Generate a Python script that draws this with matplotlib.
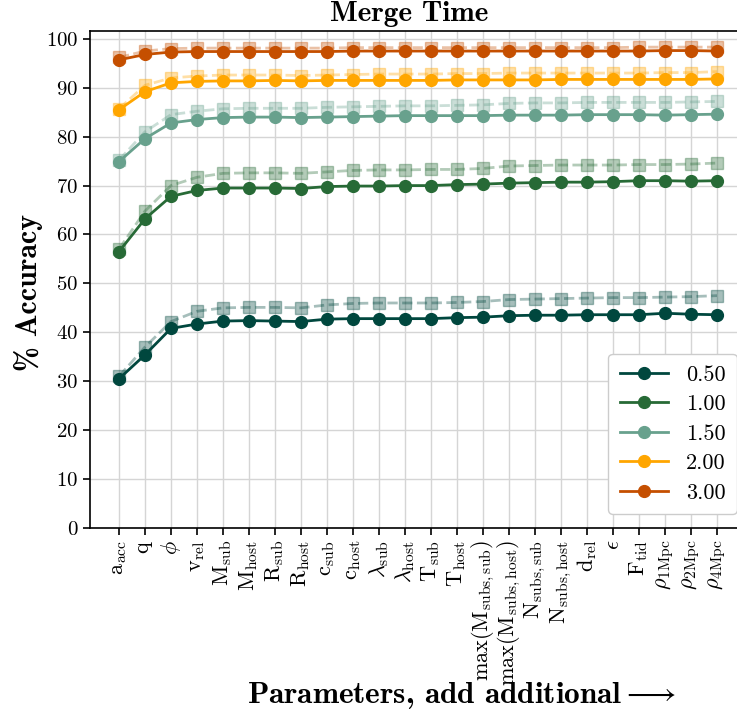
import numpy as np
import matplotlib
matplotlib.use("Agg")
from matplotlib import pyplot as plt

plt.rcParams['font.family'] = ['cmr10', 'DejaVu Serif']
plt.rcParams['mathtext.fontset'] = 'cm'
plt.rcParams['axes.formatter.use_mathtext'] = True

# parameters, added one after another
params = [r'$\mathrm{a}_{\mathrm{acc}}$', r'$\mathrm{q}$', r'$\phi$', r'$\mathrm{v}_{\mathrm{rel}}$',
          r'$\mathrm{M}_{\mathrm{sub}}$', r'$\mathrm{M}_{\mathrm{host}}$', r'$\mathrm{R}_{\mathrm{sub}}$',
          r'$\mathrm{R}_{\mathrm{host}}$', r'$\mathrm{c}_{\mathrm{sub}}$', r'$\mathrm{c}_{\mathrm{host}}$',
          r'$\lambda_{\mathrm{sub}}$', r'$\lambda_{\mathrm{host}}$', r'$\mathrm{T}_{\mathrm{sub}}$',
          r'$\mathrm{T}_{\mathrm{host}}$', r'$\mathrm{max}(\mathrm{M}_{\mathrm{subs,sub}})$',
          r'$\mathrm{max}(\mathrm{M}_{\mathrm{subs,host}})$', r'$\mathrm{N}_{\mathrm{subs,sub}}$',
          r'$\mathrm{N}_{\mathrm{subs,host}}$', r'$\mathrm{d}_{\mathrm{rel}}$', r'$\epsilon$',
          r'$\mathrm{F}_{\mathrm{tid}}$', r'$\rho_{\mathrm{1Mpc}}$', r'$\rho_{\mathrm{2Mpc}}$',
          r'$\rho_{\mathrm{4Mpc}}$']

labels = ['0.50', '1.00', '1.50', '2.00', '3.00']
colors = ['#00473e', '#276a36', '#68a18d', '#ffa600', '#c54f00']

# accuracy (solid) and the comparison run (dashed)
acc_050 = [30.5, 35.4, 40.8, 41.7, 42.3, 42.4, 42.3, 42.2, 42.7, 42.8, 42.8, 42.8,
           42.8, 43.0, 43.1, 43.4, 43.5, 43.5, 43.6, 43.6, 43.6, 43.9, 43.7, 43.6]
acc_100 = [56.5, 63.2, 67.8, 69.0, 69.5, 69.5, 69.5, 69.4, 69.8, 69.9, 69.9, 70.0,
           70.0, 70.2, 70.3, 70.5, 70.6, 70.7, 70.7, 70.8, 71.0, 71.0, 70.9, 71.0]
acc_150 = [74.9, 79.6, 82.8, 83.5, 83.9, 84.0, 84.0, 83.9, 84.0, 84.1, 84.2, 84.3,
           84.3, 84.3, 84.3, 84.4, 84.4, 84.4, 84.5, 84.5, 84.5, 84.4, 84.5, 84.6]
acc_200 = [85.5, 89.2, 91.0, 91.3, 91.4, 91.4, 91.5, 91.4, 91.5, 91.5, 91.5, 91.5,
           91.5, 91.6, 91.6, 91.6, 91.6, 91.7, 91.7, 91.7, 91.7, 91.7, 91.7, 91.8]
acc_300 = [95.7, 96.8, 97.3, 97.4, 97.4, 97.4, 97.4, 97.4, 97.4, 97.5, 97.5, 97.5,
           97.5, 97.5, 97.5, 97.5, 97.5, 97.5, 97.5, 97.5, 97.5, 97.6, 97.6, 97.5]

alt_050 = [31.0, 37.0, 42.2, 44.3, 45.0, 45.1, 45.1, 45.0, 45.6, 45.9, 46.0, 46.0,
           46.0, 46.1, 46.3, 46.7, 46.8, 46.9, 47.0, 47.1, 47.1, 47.2, 47.3, 47.5]
alt_100 = [57.0, 64.8, 70.0, 71.7, 72.5, 72.6, 72.6, 72.5, 72.8, 73.1, 73.2, 73.2,
           73.3, 73.3, 73.5, 74.0, 74.1, 74.2, 74.2, 74.2, 74.3, 74.3, 74.4, 74.6]
alt_150 = [75.2, 81.0, 84.5, 85.2, 85.7, 85.8, 85.8, 85.8, 86.0, 86.1, 86.2, 86.3,
           86.3, 86.4, 86.5, 86.8, 86.9, 86.9, 87.0, 87.0, 87.0, 87.0, 87.1, 87.2]
alt_200 = [85.7, 90.5, 92.0, 92.4, 92.6, 92.6, 92.6, 92.5, 92.6, 92.7, 92.8, 92.8,
           92.8, 92.9, 92.9, 93.0, 93.0, 93.0, 93.0, 93.0, 93.0, 93.1, 93.1, 93.3]
alt_300 = [96.2, 97.5, 98.0, 98.1, 98.1, 98.1, 98.1, 98.1, 98.1, 98.2, 98.2, 98.2,
           98.2, 98.2, 98.2, 98.2, 98.2, 98.2, 98.2, 98.2, 98.3, 98.3, 98.3, 98.3]

acc = [acc_050, acc_100, acc_150, acc_200, acc_300]
alt = [alt_050, alt_100, alt_150, alt_200, alt_300]

fig = plt.figure(figsize=(7.37, 7.17), dpi=100)
ax = fig.add_axes([90/737, (717-528)/717, 660/737, (528-31)/717])
x = np.arange(len(params))

for i in range(len(labels)):
    ax.plot(x, alt[i], '--s', color=colors[i], alpha=0.35, lw=2, ms=8,
            mec=colors[i], zorder=2)
    ax.plot(x, acc[i], '-o', color=colors[i], lw=2, ms=8.5, label=labels[i], zorder=3)

ax.set_xticks(x)
ax.set_xticklabels(params, rotation=90, fontsize=16)
ax.set_yticks(np.arange(0, 101, 10))
ax.tick_params(axis='y', labelsize=15)
ax.tick_params(direction='out', length=5, width=1.2)
ax.set_xlim(-1.115, 24.27)
ax.set_ylim(0, 101.6)
ax.grid(True, color='#d5d5d5', lw=1)
ax.set_axisbelow(True)
for s in ax.spines.values():
    s.set_linewidth(1.2)

ax.set_title('Merge Time', fontsize=21, family='cmb10', pad=7, x=0.483)
ax.set_ylabel('% Accuracy', fontsize=21.5, family='cmb10')
ax.yaxis.set_label_coords(-0.071, 0.473)
fig.text(0.335, 0.009, r'Parameters, add additional$\longrightarrow$',
         fontsize=22.5, family='cmb10', ha='left', va='bottom')

leg = ax.legend(loc='lower right', fontsize=16, framealpha=1, edgecolor='#cccccc',
                bbox_to_anchor=(0.997, 0.006), handlelength=2.2, borderpad=0.5,
                labelspacing=0.45)

plt.savefig('out.png', dpi=100)
